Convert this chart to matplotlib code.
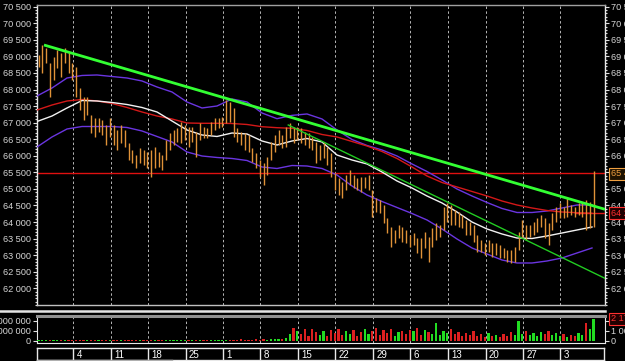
import numpy as np
import matplotlib
matplotlib.use("Agg")
import matplotlib.pyplot as plt
from matplotlib.lines import Line2D
from matplotlib.ticker import FixedLocator, MultipleLocator

# ---------------- data ----------------
bar_high = [
    69043, 69340, 69244, 68791, 68992, 69193, 69093, 69244, 69143, 68791,
    68690, 68037, 67785, 67785, 67232, 67131, 67131, 67081, 66930, 67131,
    66930, 66779, 66930, 66779, 66377, 66176, 66025, 66226, 66176, 66125,
    66176, 66276, 66125, 66025, 66477, 66678, 66779, 66830, 67030, 66930,
    66880, 66880, 66729, 66980, 66880, 66830, 67030, 67131, 67131, 67181,
    67685, 67634, 67433, 66830, 66729, 66678, 66628, 66226, 66075, 65874,
    65773, 65974, 66427, 66628, 66779, 66628, 66880, 66980, 66880, 66880,
    66829, 66729, 66678, 66578, 66427, 66326, 66427, 66276, 66075, 65471,
    65320, 65219, 65420, 65571, 65420, 65320, 65370, 65370, 65420, 64968,
    64716, 64666, 64515, 64113, 63861, 63760, 63911, 63861, 63760, 63610,
    63660, 63509, 63509, 63710, 63559, 63811, 63961, 63911, 64465, 64565,
    64515, 64364, 64314, 64213, 64062, 64012, 63911, 63610, 63459, 63358,
    63459, 63358, 63358, 63308, 63207, 63157, 63157, 63257, 63710, 64062,
    63912, 63912, 64012, 64113, 64213, 64113, 63962, 64263, 64465, 64565,
    64465, 64716, 64515, 64465, 64565, 64616, 64666, 64616, 65550]
bar_low = [
    68690, 68489, 68791, 67785, 68288, 68640, 68389, 68791, 68489, 68288,
    67785, 67383, 67081, 67232, 66678, 66578, 66729, 66628, 66327, 66578,
    66327, 66176, 66377, 66276, 65874, 65773, 65622, 65773, 65723, 65622,
    65371, 65622, 65672, 65572, 65874, 66176, 66327, 66427, 66376, 66477,
    66276, 66427, 65974, 66477, 66528, 66528, 66628, 66779, 66830, 66880,
    66980, 67030, 66578, 66427, 66327, 66175, 66125, 65823, 65622, 65371,
    65119, 65421, 65874, 66125, 66327, 66226, 66276, 66527, 66376, 66477,
    66376, 66327, 66226, 66175, 65773, 65874, 65924, 65722, 65370, 64968,
    64817, 64716, 64968, 65119, 65018, 64968, 64917, 65018, 64968, 64163,
    64314, 64263, 63962, 63660, 63257, 63358, 63509, 63408, 63358, 63257,
    63308, 63056, 62905, 63207, 62805, 63257, 63459, 63559, 63760, 64012,
    63911, 63911, 63861, 63811, 63610, 63610, 63408, 63107, 63107, 63006,
    63107, 62956, 63006, 62905, 62905, 62805, 62754, 62805, 63157, 63509,
    63459, 63559, 63610, 63710, 63861, 63509, 63308, 63760, 64012, 64113,
    64113, 64163, 64213, 64163, 64213, 64163, 63760, 63811, 63861]
volume_k = [
    40, 30, 50, 30, 60, 40, 30, 50, 40, 30,
    50, 40, 30, 60, 40, 50, 30, 40, 50, 30,
    40, 60, 30, 50, 40, 30, 50, 40, 60, 30,
    50, 40, 30, 50, 60, 40, 50, 30, 40, 60,
    50, 70, 40, 60, 50, 80, 40, 60, 90, 50,
    70, 100, 60, 80, 120, 70, 90, 60, 110, 80,
    130, 90, 150, 110, 200, 160, 250, 700, 1300, 1000,
    700, 1200, 500, 1200, 900, 600, 1000, 500, 1100, 800,
    1200, 600, 1000, 700, 1100, 500, 900, 1200, 700, 1000,
    1300, 600, 1100, 800, 1200, 500, 900, 1000, 700, 1100,
    1000, 1300, 600, 1100, 900, 700, 1800, 600, 1000, 800,
    1200, 700, 900, 500, 800, 600, 1000, 500, 700, 400,
    800, 500, 600, 400, 700, 500, 900, 600, 2000, 700,
    1000, 600, 800, 500, 900, 700, 1000, 600, 800, 500,
    700, 400, 600, 500, 800, 600, 1800, 1200, 2170]

ma_days = list(range(0, 75, 2))
ma_white = [67035, 67201, 67443, 67669, 67654, 67609, 67548, 67458, 67322, 67050,
            66779, 66628, 66583, 66688, 66658, 66447, 66326, 66447, 66522, 66417,
            66024, 65873, 65753, 65511, 65240, 65028, 64787, 64576, 64304, 64002,
            63791, 63640, 63519, 63504, 63580, 63670, 63761, 63851]
ma_red = [67382, 67533, 67654, 67699, 67654, 67579, 67458, 67322, 67201, 67111,
          66990, 66981, 66981, 66975, 66945, 66878, 66848, 66830, 66764, 66643,
          66568, 66432, 66296, 66130, 65919, 65662, 65391, 65194, 65059, 64923,
          64787, 64636, 64515, 64425, 64349, 64304, 64283, 64265]
band_upper = [67805, 68046, 68348, 68424, 68439, 68393, 68348, 68258, 68077, 67926,
              67624, 67443, 67503, 67714, 67624, 67292, 67120, 67220, 67262, 67111,
              66779, 66492, 66311, 66175, 65994, 65753, 65526, 65270, 64998, 64787,
              64591, 64410, 64289, 64289, 64334, 64425, 64515, 64515]
band_lower = [66266, 66568, 66809, 66884, 66884, 66884, 66854, 66749, 66583, 66417,
              66115, 65994, 65949, 65919, 65858, 65662, 65617, 65707, 65692, 65617,
              65421, 65089, 64817, 64621, 64440, 64259, 64063, 63791, 63489, 63218,
              63036, 62855, 62765, 62765, 62825, 62916, 63067, 63218]

trend_main_x = [0.93, 75.73]
trend_main_y = [69344, 64385]
trend_fast_x = [33.5, 75.73]
trend_fast_y = [66930, 62302]
hline_level = 65480

week_days = [4.8, 9.8, 14.8, 19.8, 24.8, 29.75, 34.75, 39.75, 44.8, 49.75, 54.8, 59.8, 64.8, 69.75]
week_labels = ["4", "11", "18", "25", "1", "8", "15", "22", "29", "6", "13", "20", "27", "3"]

# ---------------- figure ----------------
W, H = 625, 361
fig = plt.figure(figsize=(W / 100, H / 100), dpi=100, facecolor="black")
FONT = "Liberation Sans"
LBL = "#d6d6d6"

def fmt(v):
    return f"{int(v):,}".replace(",", " ")

XMAX = (605 - 37) / 7.5
ax = fig.add_axes([37 / W, 1 - 305 / H, 568 / W, 300 / H])
ax.set_facecolor("black")
ax.set_xlim(0, XMAX)
ax.set_ylim(61497, 70551)

bar_x = [0.2 + 0.5 * i for i in range(len(bar_high))]

ax.axhline(hline_level, color="#e01010", lw=1.0, zorder=2)
ax.plot(ma_days, band_upper, color="#6a35e0", lw=1.0, zorder=3)
ax.plot(ma_days, band_lower, color="#6a35e0", lw=1.0, zorder=3)
ax.plot(ma_days, ma_red, color="#d41818", lw=1.0, zorder=3)
ax.plot(ma_days, ma_white, color="#f2f2f2", lw=1.0, zorder=3)
ax.vlines(bar_x, bar_low, bar_high, color="#e09238", lw=1.0, zorder=4)
ax.plot(trend_main_x, trend_main_y, color="#33ff33", lw=2.0, zorder=5, solid_capstyle="butt")
ax.plot(trend_fast_x, trend_fast_y, color="#22cc22", lw=1.0, zorder=5)

ax.set_xticks(week_days)
ax.tick_params(axis="x", length=0, labelbottom=False)
ax.grid(axis="x", color="#b8b8b8", lw=0.7, ls=(0, (2.5, 2.5)))
ax.set_axisbelow(True)
ax.yaxis.set_major_locator(FixedLocator(list(range(62000, 70501, 500))))
ax.yaxis.set_minor_locator(MultipleLocator(100))
ax.set_yticklabels([fmt(v) for v in range(62000, 70501, 500)])
ax.tick_params(axis="y", which="both", colors="#e0e0e0", labelcolor=LBL, labelsize=6.6,
               left=True, right=True, labelleft=True, labelright=True, pad=1.2, width=0.8)
ax.tick_params(axis="y", which="major", length=3.2)
ax.tick_params(axis="y", which="minor", length=1.6)
for lab in ax.get_yticklabels():
    lab.set_fontfamily(FONT)
ax.spines["left"].set_color("#e8e8e8")
ax.spines["right"].set_color("#e8e8e8")
ax.spines["top"].set_color("#a0a0a0")
ax.spines["bottom"].set_color("#c0c0c0")
for s in ax.spines.values():
    s.set_linewidth(1.0)

ax.annotate(fmt(bar_high[-1] - 90), xy=(1.0, bar_high[-1] - 90), xycoords=("axes fraction", "data"),
            xytext=(4, 0), textcoords="offset points", va="center", ha="left",
            fontsize=6.6, family=FONT, color="#f0a040", annotation_clip=False, zorder=10,
            bbox=dict(boxstyle="square,pad=0.15", fc="#1e1200", ec="#f0a040", lw=0.8))
ax.annotate(fmt(ma_red[-1]), xy=(1.0, ma_red[-1]), xycoords=("axes fraction", "data"),
            xytext=(4, 0), textcoords="offset points", va="center", ha="left",
            fontsize=6.6, family=FONT, color="#ff3030", annotation_clip=False, zorder=10,
            bbox=dict(boxstyle="square,pad=0.15", fc="#200000", ec="#ff3030", lw=0.8))
ax.plot([bar_x[-6], XMAX], [ma_red[-1], ma_red[-1]], color="#e01818", lw=1.0, zorder=3)

# ---------------- volume panel ----------------
axv = fig.add_axes([37 / W, 1 - 343 / H, 568 / W, 27 / H])
axv.set_facecolor("black")
axv.set_xlim(0, XMAX)
axv.set_ylim(-250000, 2450000)
mids = [(h + l) / 2 for h, l in zip(bar_high, bar_low)]
vcolors = ["#22dd22" if i == 0 or mids[i] >= mids[i - 1] else "#dd2020" for i in range(len(mids))]
axv.bar(bar_x, [v * 1000 for v in volume_k], width=0.3, color=vcolors, zorder=3)
axv.set_xticks(week_days)
axv.tick_params(axis="x", length=0, labelbottom=False)
axv.grid(axis="x", color="#b8b8b8", lw=0.7, ls=(0, (2.5, 2.5)))
axv.set_axisbelow(True)
axv.set_yticks([0, 1000000, 2000000])
axv.set_yticklabels([fmt(v) for v in [0, 1000000, 2000000]])
axv.tick_params(axis="y", colors="#e0e0e0", labelcolor=LBL, labelsize=6.6, length=3.2,
                left=True, right=True, labelleft=True, labelright=True, pad=1.2, width=0.8)
for lab in axv.get_yticklabels():
    lab.set_fontfamily(FONT)
for t in axv.yaxis.get_major_ticks()[2:]:
    t.label2.set_visible(False)
axv.spines["left"].set_color("#e8e8e8")
axv.spines["right"].set_color("#e8e8e8")
axv.spines["bottom"].set_color("#e8e8e8")
axv.spines["top"].set_color("#909090")
axv.spines["top"].set_linewidth(2.2)
axv.annotate(fmt(volume_k[-1] * 1000), xy=(1.0, volume_k[-1] * 1000), xycoords=("axes fraction", "data"),
             xytext=(4, 0), textcoords="offset points", va="center", ha="left",
             fontsize=6.6, family=FONT, color="#ff3030", annotation_clip=False, zorder=10,
             bbox=dict(boxstyle="square,pad=0.15", fc="#200000", ec="#ff3030", lw=0.8))

# ---------------- date strip ----------------
axd = fig.add_axes([37 / W, 1 - 360 / H, 567 / W, 12 / H])
axd.set_facecolor("black")
axd.set_xlim(0, XMAX * 567 / 568)
axd.set_ylim(0, 1)
axd.set_xticks([])
axd.set_yticks([])
for s in axd.spines.values():
    s.set_color("#e8e8e8")
    s.set_linewidth(1.0)
axd.vlines(week_days, 0, 1, color="#e8e8e8", lw=1.0)
for d, lab in zip(week_days, week_labels):
    axd.text(d + 0.45, 0.45, lab, ha="left", va="center", color="white",
             fontsize=7, family=FONT)

# panel separator
fig.add_artist(Line2D([0, 605 / W], [1 - 311 / H, 1 - 311 / H], color="#e4e4e4", lw=1.8,
                      transform=fig.transFigure))
fig.add_artist(Line2D([37 / W, 172 / W], [1 - 360.3 / H, 1 - 360.3 / H], color="#b0b0b0", lw=1.0,
                      transform=fig.transFigure))

fig.savefig("out.png", dpi=100, facecolor="black")
